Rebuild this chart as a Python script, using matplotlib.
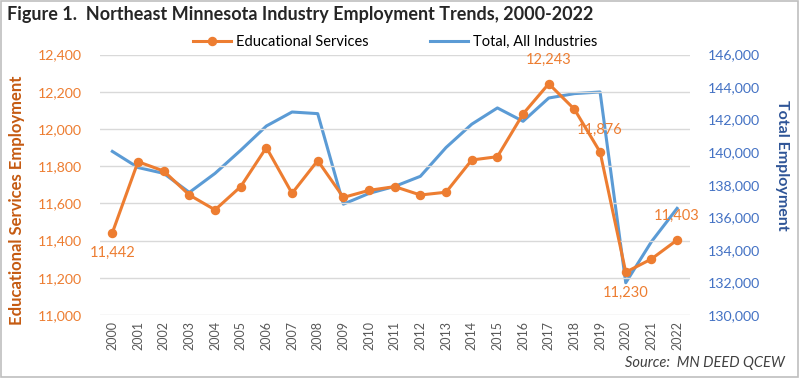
import matplotlib
matplotlib.use("Agg")
import matplotlib.pyplot as plt
from matplotlib.patches import Rectangle

plt.rcParams['font.family'] = ['Lato', 'DejaVu Sans']

years = [str(y) for y in range(2000, 2023)]
edu = [11442, 11824, 11774, 11645, 11565, 11690, 11900, 11654, 11830, 11632,
       11670, 11690, 11645, 11660, 11833, 11851, 12081, 12243, 12106, 11876,
       11230, 11301, 11403]
total = [140050, 139060, 138700, 137530, 138700, 140120, 141610, 142470, 142370, 136810,
         137470, 137900, 138520, 140290, 141720, 142720, 141900, 143330, 143600, 143700,
         131980, 134500, 136550]
left_ticks = [11000, 11200, 11400, 11600, 11800, 12000, 12200, 12400]
right_ticks = [130000, 132000, 134000, 136000, 138000, 140000, 142000, 144000, 146000]
labelled = [0, 17, 19, 20, 22]

ORANGE = '#ED7D31'
BLUE = '#5B9BD5'

fig = plt.figure(figsize=(8, 3.78), dpi=100)
fig.patches.append(Rectangle((0.001, 0.002), 0.997, 0.995, transform=fig.transFigure,
                             fill=False, edgecolor='#BFBFBF', lw=1.2))
ax = fig.add_axes([0.1244, 0.1667, 0.738, 0.689])
ax2 = ax.twinx()

x = list(range(len(years)))
ax.set_zorder(ax2.get_zorder() + 1)
ax.patch.set_visible(False)

l1, = ax.plot(x, edu, color=ORANGE, lw=2.2, marker='o', ms=5.8, label='Educational Services')
l2, = ax2.plot(x, total, color=BLUE, lw=2.2, label='Total, All Industries')

ax.set_ylim(11000, 12400)
ax.set_yticks(left_ticks)
ax.set_yticklabels([f'{v:,}' for v in left_ticks])
ax2.set_ylim(130000, 146000)
ax2.set_yticks(right_ticks)
ax2.set_yticklabels([f'{v:,}' for v in right_ticks])
ax.set_xlim(-0.5, len(years) - 0.5)
ax.set_xticks(x)
ax.set_xticklabels(years, rotation=90, fontsize=9, color='#595959')

ax.grid(axis='y', color='#D9D9D9', lw=1)
ax.set_axisbelow(True)
for a in (ax, ax2):
    for s in a.spines.values():
        s.set_visible(False)
    a.tick_params(length=0)
ax.tick_params(axis='y', colors=ORANGE, labelsize=10.2, pad=13)
ax.tick_params(axis='x', pad=4)
ax2.tick_params(axis='y', colors='#4472C4', labelsize=10.2, pad=13)

# data labels (above / below the point)
offsets = {0: -20, 17: 24, 19: 22, 20: -21, 22: 24}
for i in labelled:
    ax.annotate(f'{edu[i]:,}', (x[i], edu[i]), xytext=(0, offsets[i]), textcoords='offset pixels',
                ha='center', va='center', color=ORANGE, fontsize=10.5)

fig.text(0.009, 0.962, 'Figure 1.  Northeast Minnesota Industry Employment Trends, 2000-2022',
         fontsize=13, fontweight='bold', color='#262626', va='center', ha='left')
fig.legend([l1, l2], ['Educational Services', 'Total, All Industries'], ncol=2,
           loc='center', bbox_to_anchor=(0.494, 0.889), frameon=False, fontsize=10.5,
           handlelength=2.6, columnspacing=4.2, handletextpad=0.35)
fig.text(0.021, 0.47, 'Educational Services Employment', rotation=90, fontsize=12,
         fontweight='bold', color='#C55A11', ha='center', va='center')
fig.text(0.978, 0.563, 'Total Employment', rotation=-90, fontsize=11.5,
         fontweight='bold', color='#2F5597', ha='center', va='center')
fig.text(0.981, 0.04, 'Source:  MN DEED QCEW', fontsize=10.5, style='italic',
         color='#404040', ha='right', va='center')

fig.savefig('out.png', dpi=100)
